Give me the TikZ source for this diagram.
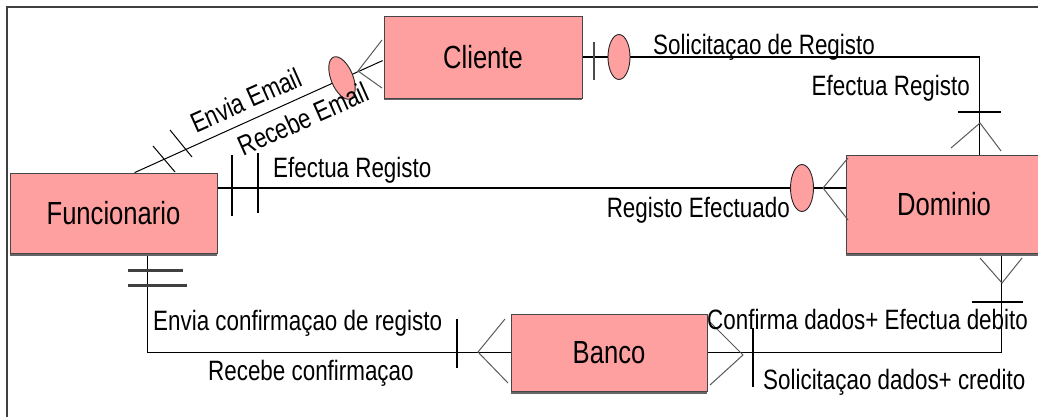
\documentclass[tikz,border=0pt]{standalone}
\usepackage{fontspec}
\setmainfont[FakeStretch=0.8]{Liberation Sans}
\usetikzlibrary{shapes.geometric,backgrounds,calc,shadows}
\definecolor{boxpink}{RGB}{255,160,160}
\definecolor{edgegray}{RGB}{70,70,70}
\begin{document}
\begin{tikzpicture}[x=1pt,y=-1pt,
  entity/.style={draw=edgegray, line width=0.8pt, fill=boxpink, rectangle, inner sep=0pt,
    font=\fontsize{32}{36}\selectfont,
    general shadow={fill=black!60, shadow yshift=-2.5pt}},
  rel/.style={ellipse, draw=black!85, line width=0.9pt, fill=boxpink, inner sep=0pt,
    minimum width=22pt, minimum height=45pt},
  lbl/.style={font=\fontsize{28}{32}\selectfont, inner sep=0pt},
  conn/.style={black},
  crow/.style={line width=1pt, black!65},
  tick/.style={black},
]
\useasboundingbox (0,0) rectangle (1038,417);
\draw[line width=2pt, black!75] (7,417) -- (7,7) -- (1038,7);

% entities
\node[entity, minimum width=198pt, minimum height=82pt] (cliente) at (483,57) {Cliente};
\node[entity, minimum width=207pt, minimum height=80pt] (func) at (113.5,213) {Funcionario};
\node[entity, minimum width=196pt, minimum height=98pt] (dom) at (944,204) {Dominio};
\node[entity, minimum width=196pt, minimum height=77pt] (banco) at (609,352.5) {Banco};

% relationship ellipses
\node[rel, rotate=22] (e1) at (342,78) {};
\node[rel] (e2) at (619,57) {};
\node[rel, minimum width=23pt, minimum height=47pt] (e3) at (802,188) {};

% connectors
\begin{scope}[on background layer]
\draw[conn, line width=1pt] ($(func.north west)+(125,0)$) -- ($(cliente.north west)+(-1,45)$);
\draw[conn, line width=1.2pt] (cliente.east |- e2) -| ($(dom.north west)+(134,0)$);
\draw[conn, line width=2.6pt] (func.east |- e3) -- (dom.west |- e3);
\draw[conn, line width=1.5pt] ($(func.south west)+(138,0)$) |- (banco.west);
\draw[conn, line width=1.3pt] (banco.east) -| ($(dom.south west)+(156,0)$);
\end{scope}

% crow's feet
\draw[crow] (382,40) -- (358,71) -- (382,88);
\draw[crow] (951,148) -- (980,123) -- (1001,151);
\draw[crow] (848,158) -- (823,188) -- (848,220);
\draw[crow] (980,258) -- (1002,283) -- (1022,258);
\draw[crow] (505,319) -- (478,352) -- (508,383);
\draw[crow] (710,322) -- (743,355) -- (710,385);

% ticks
\draw[tick, line width=1.2pt, black!70] (594,42) -- (594,80);
\draw[tick, line width=2pt] (958,112) -- (1001,112);
\draw[tick, line width=2.6pt] (232,155) -- (232,216);
\draw[tick, line width=2.6pt] (258,153) -- (258,213);
\draw[tick, line width=3pt, black!75] (128,270) -- (183,270);
\draw[tick, line width=3pt, black!75] (128,285) -- (187,285);
\draw[tick, line width=2pt] (457,319) -- (457,368);
\draw[tick, line width=1.2pt] (753,328) -- (753,387);
\draw[tick, line width=1.5pt] (972,302) -- (1023,302);
\draw[tick, line width=1pt] (153,146) -- (175,172);
\draw[tick, line width=1pt] (170,130) -- (192,157);

% labels
\node[lbl, rotate=24] (lenvia) at (246,100) {Envia Email};
\node[lbl, rotate=24] (lrecebe) at (303,119) {Recebe Email};
\node[lbl, anchor=west] (lsolreg) at (653,47) {Solicitaçao de Registo};
\node[lbl, anchor=east] (lefreg1) at (970,88) {Efectua Registo};
\node[lbl, anchor=west] (lefreg2) at (273,170) {Efectua Registo};
\node[lbl, anchor=east] (lregef) at (790,210) {Registo Efectuado};
\node[lbl, anchor=west] (lenvconf) at (153,323) {Envia confirmaçao de registo};
\node[lbl, anchor=west] (lrecconf) at (208,373) {Recebe confirmaçao};
\node[lbl, anchor=west] (lconfdeb) at (707,319) {Confirma dados+ Efectua debito};
\node[lbl, anchor=west] (lsolcred) at (763,382) {Solicitaçao dados+ credito};
\end{tikzpicture}
\end{document}
